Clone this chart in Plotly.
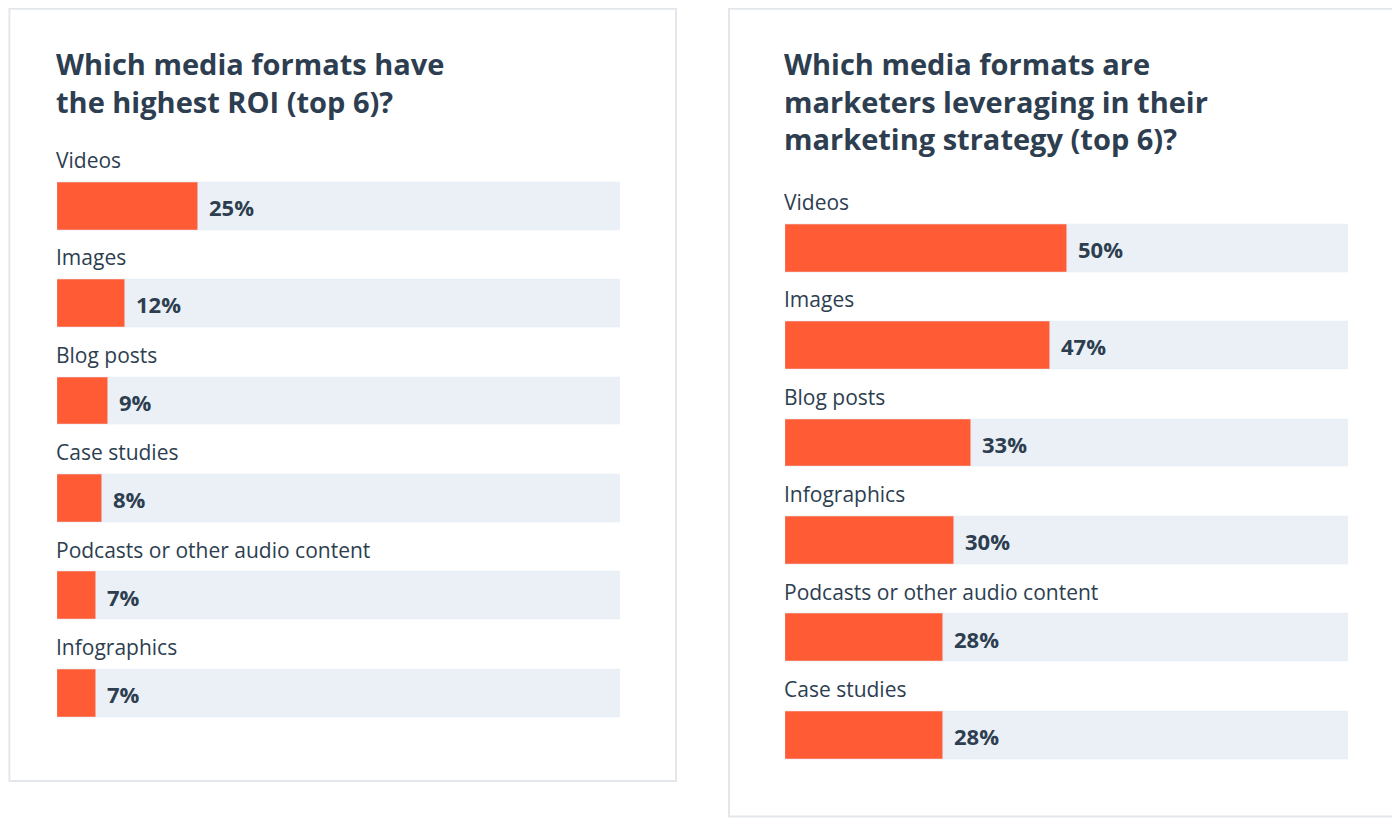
import plotly.graph_objects as go

left_title = "Which media formats have<br>the highest ROI (top 6)?"
left_cats = ["Videos", "Images", "Blog posts", "Case studies", "Podcasts or other audio content", "Infographics"]
left_vals = [25, 12, 9, 8, 7, 7]

right_title = "Which media formats are<br>marketers leveraging in their<br>marketing strategy (top 6)?"
right_cats = ["Videos", "Images", "Blog posts", "Infographics", "Podcasts or other audio content", "Case studies"]
right_vals = [50, 47, 33, 30, 28, 28]

ORANGE = "#ff5c35"
TRACK = "#eaf0f6"
TEXT = "#2d3e50"
FONT = "Open Sans"
OFF = 8  # page body margin
W, H = 1400 - OFF, 818 - OFF

def X(p):
    return (p - OFF) / W

def Y(p):
    return 1 - (p - OFF) / H

fig = go.Figure()
annotations = []

panels = [
    (left_cats, left_vals, left_title, "x", "y", 57),
    (right_cats, right_vals, right_title, "x2", "y2", 785),
]
for cats, vals, title, xa, ya, px0 in panels:
    idx = list(range(len(cats)))
    fig.add_trace(go.Bar(y=idx, x=[100] * len(cats), orientation="h", marker_color=TRACK,
                         width=0.49, xaxis=xa, yaxis=ya, hoverinfo="skip", showlegend=False))
    fig.add_trace(go.Bar(y=idx, x=vals, orientation="h", marker_color=ORANGE,
                         width=0.49, xaxis=xa, yaxis=ya, showlegend=False))
    for i, (c, v) in enumerate(zip(cats, vals)):
        annotations.append(dict(x=0, y=i, xref=xa, yref=ya, text=c, showarrow=False,
                                xanchor="left", yanchor="middle", yshift=46, xshift=-3,
                                font=dict(family=FONT, size=21, color=TEXT)))
        annotations.append(dict(x=v, y=i, xref=xa, yref=ya, text=f"<b>{v}%</b>", showarrow=False,
                                xanchor="left", yanchor="middle", xshift=9, yshift=-1,
                                font=dict(family=FONT, size=22, color=TEXT)))
    annotations.append(dict(x=X(px0 - 3), y=Y(42), xref="paper", yref="paper", text=f"<b>{title}</b>",
                            showarrow=False, xanchor="left", yanchor="top", align="left",
                            font=dict(family=FONT, size=29, color=TEXT)))

def ax(px0, px1):
    return dict(domain=[X(px0), X(px1)], range=[0, 100], visible=False, fixedrange=True)

def ay(py0, py1):
    return dict(domain=[Y(py1), Y(py0)], range=[5.5, -0.5], visible=False, fixedrange=True)

fig.update_layout(
    width=W, height=H, margin=dict(l=0, r=0, t=0, b=0),
    paper_bgcolor="white", plot_bgcolor="white", barmode="overlay", bargap=0,
    xaxis=ax(57, 620), yaxis=ay(157.3, 741.7),
    xaxis2=ax(785, 1348), yaxis2=ay(199.3, 783.7),
    annotations=annotations,
    shapes=[
        dict(type="rect", xref="paper", yref="paper", x0=0.001, x1=X(676), y0=Y(781), y1=0.999,
             line=dict(color="#e3e7eb", width=2), layer="below"),
        dict(type="rect", xref="paper", yref="paper", x0=X(729), x1=X(1397), y0=0.002, y1=0.999,
             line=dict(color="#e3e7eb", width=2), layer="below"),
    ],
)
fig.write_html("out.html")
